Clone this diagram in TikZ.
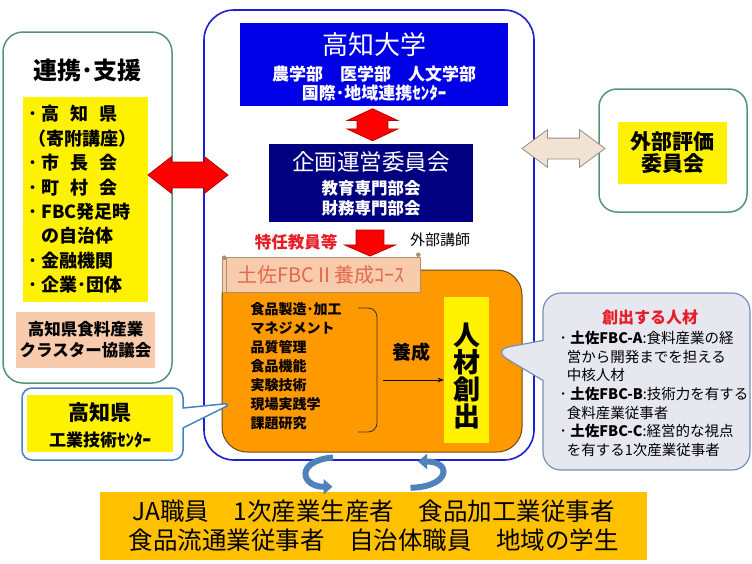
\documentclass[tikz,border=0pt]{standalone}
\usepackage{fontspec}
\setmainfont{Noto Sans CJK JP}
\usetikzlibrary{positioning,shapes.arrows,shapes.callouts,arrows.meta,calc}

\definecolor{frameGreen}{RGB}{84,150,112}
\definecolor{uniBlue}{RGB}{0,0,230}
\definecolor{committeeBlue}{RGB}{0,0,128}
\definecolor{frameBlue}{RGB}{30,30,215}
\definecolor{peach}{RGB}{248,203,173}
\definecolor{courseOrange}{RGB}{255,153,0}
\definecolor{courseEdge}{RGB}{110,70,20}
\definecolor{scrollText}{RGB}{225,105,75}
\definecolor{arrowRed}{RGB}{255,0,0}
\definecolor{arrowEdge}{RGB}{180,0,0}
\definecolor{beige}{RGB}{242,226,212}
\definecolor{beigeEdge}{RGB}{150,140,130}
\definecolor{calloutFill}{RGB}{231,231,240}
\definecolor{calloutEdge}{RGB}{115,145,185}
\definecolor{techEdge}{RGB}{70,130,190}
\definecolor{cycleBlue}{RGB}{79,129,189}
\definecolor{traineeGold}{RGB}{255,192,0}
\definecolor{talentRed}{RGB}{230,30,40}

\newcommand{\fsz}[2]{\fontsize{#1}{#2}\selectfont}
\newcommand{\itm}{･\hspace{.25em}}

\tikzset{
  greenframe/.style={draw=frameGreen, line width=1.5pt, rounded corners=20pt, fill=white},
  fillbox/.style={draw=none, inner sep=0pt},
  blockarrow/.style={draw=arrowEdge, fill=arrowRed, line width=0.8pt, inner xsep=0pt},
  cyclearrow/.style={draw=cycleBlue, line width=6pt, -{Triangle[length=9pt,width=15pt]}},
}

\begin{document}
\begin{tikzpicture}[x=1pt,y=-1pt]
\useasboundingbox (0,0) rectangle (752,563);

% partners
\node[greenframe, minimum width=169, minimum height=351] (support) at (87.5,207.5) {};
\node[font=\bfseries\fsz{24}{26}] (supporttitle) at (87,70) {連携･支援};
\node[fillbox, fill=yellow, minimum width=125, minimum height=205, inner xsep=5pt, text width=115, align=left, font=\bfseries\fsz{18}{24.4}] (members) at (85.5,199.5)
  {\itm 高\hspace{.6em}知\hspace{.6em}県\\（寄附講座）\\\itm 市\hspace{.6em}長\hspace{.6em}会\\\itm 町\hspace{.6em}村\hspace{.6em}会\\\itm FBC発足時\\\hspace{.75em}の自治体\\\itm 金融機関\\\itm 企業･団体};
\node[fillbox, fill=peach, minimum width=139, minimum height=56, align=center, font=\bfseries\fsz{16.5}{21}] (cluster) at (85.5,340) {高知県食料産業\\クラスター協議会};

% university
\node[draw=frameBlue, line width=1.6pt, rounded corners=30pt, minimum width=330, minimum height=450] (univframe) at (369,235) {};
\node[fillbox, fill=uniBlue, minimum width=268, minimum height=83] (kochi) at (374,64) {};
\node[text=white, font=\fsz{26}{28}] at (374,45) {高知大学};
\node[text=white, font=\bfseries\fsz{17}{19}] at (374,74) {農学部　医学部　人文学部};
\node[text=white, font=\bfseries\fsz{17}{19}] at (374,93) {国際･地域連携ｾﾝﾀｰ};
\node[fillbox, fill=committeeBlue, minimum width=204, minimum height=78] (committee) at (371,183) {};
\node[text=white, font=\fsz{22.5}{24}] at (371,162) {企画運営委員会};
\node[text=white, font=\bfseries\fsz{16.5}{20.5}, align=center] at (371,198) {教育専門部会\\財務専門部会};
\node[blockarrow, double arrow, rotate=90, minimum height=32, inner ysep=15pt, double arrow head extend=10, double arrow tip angle=130] (govarrow) at ($(kochi.south)!.5!(committee.north)$) {};

\node[blockarrow, single arrow, rotate=-90, minimum height=26, inner ysep=13.5pt, single arrow head extend=11.5, single arrow tip angle=133] (staffarrow) at (370,240) {};
\node[text=talentRed, font=\bfseries\fsz{16.5}{18}] (staff) at (296,242) {特任教員等};
\node[font=\fsz{15}{17}] (lecturers) at (440,240) {外部講師};

% course
\node[draw=courseEdge, line width=1pt, fill=courseOrange, rounded corners=25pt, minimum width=300, minimum height=182] (course) at (372,361) {};
\node[draw=courseEdge!60, line width=.6pt, fill=peach, text=scrollText, font=\fsz{20}{22}, minimum width=198, minimum height=35] (coursetitle) at (321,274.5) {土佐FBCⅡ養成ｺｰｽ};
\draw[courseEdge!60, line width=.6pt] ([xshift=5pt]coursetitle.north west) -- ([xshift=5pt]coursetitle.south west);
\filldraw[fill=peach!70!black, draw=courseEdge!60] (coursetitle.north west) ++(2.5,1) circle (2);
\filldraw[fill=peach!70!black, draw=courseEdge!60] (coursetitle.north east) ++(-2,-2) circle (2);
\node[anchor=west, align=left, font=\bfseries\fsz{14}{19}] (topics) at (247,366.5) {食品製造･加工\\マネジメント\\品質管理\\食品機能\\実験技術\\現場実践学\\課題研究};
\draw[line width=.8pt, rounded corners=9pt, black!80] (358,308) -- (377,308) -- (377,432) -- (358,432);
\node[font=\bfseries\fsz{19}{21}] (nurture) at (411,352) {養成};
\node[fillbox, fill=yellow, minimum width=45, minimum height=146] (talent) at (466.5,370) {};
\node[font=\bfseries\fsz{27}{27}, align=center] at (467,376) {人\\材\\創\\出};
\coordinate (bracketout) at (383,380);
\draw[-{Stealth[length=6pt]}, line width=.8pt] (bracketout) -- (bracketout -| talent.west);

% talent profiles
\node[rectangle callout, callout absolute pointer={(492,350)}, callout pointer width=40pt, fill=calloutFill, draw=calloutEdge, line width=1.2pt, rounded corners=18pt, minimum width=207, minimum height=177] (profile) at (646.5,381.5) {};
\node[text=talentRed, font=\bfseries\fsz{16}{18}] (profiletitle) at (650,317) {創出する人材};
\node[anchor=west, align=left, font=\fsz{14.5}{18.7}] (profiles) at (556,394)
  {\itm\textbf{土佐FBC-A}:食料産業の経\\\hspace{.5em}営から開発までを担える\\\hspace{.5em}中核人材\\\itm\textbf{土佐FBC-B}:技術力を有する\\\hspace{.5em}食料産業従事者\\\itm\textbf{土佐FBC-C}:経営的な視点\\\hspace{.5em}を有する1次産業従事者};

% technology center
\node[rectangle callout, callout absolute pointer={(233,403)}, callout pointer width=20pt, fill=white, draw=techEdge, line width=1.5pt, rounded corners=10pt, minimum width=161, minimum height=72] (techcenter) at (102.5,424) {};
\node[fillbox, fill=yellow, minimum width=146, minimum height=57] (techlabel) at (100,423.5) {};
\node[font=\bfseries\fsz{21}{23}] at (100,413) {高知県};
\node[font=\bfseries\fsz{17}{19}] at (100,440) {工業技術ｾﾝﾀｰ};

% evaluation
\node[greenframe, rounded corners=18pt, minimum width=148, minimum height=123] (evaluation) at (673,150.5) {};
\node[fillbox, fill=yellow, minimum width=109, minimum height=62, align=center, font=\bfseries\fsz{21}{22}] (evallabel) at (672.5,153) {外部評価\\委員会};

% big arrows
\node[blockarrow, double arrow, minimum height=80, inner ysep=12.5pt, double arrow head extend=5.5, double arrow tip angle=76] (supportarrow) at (188,175) {};
\node[blockarrow, draw=beigeEdge, fill=beige, double arrow, minimum height=83, inner ysep=10pt, double arrow head extend=8.5, double arrow tip angle=73] (evalarrow) at (563.5,148.5) {};

% trainees
\node[fillbox, fill=traineeGold, minimum width=547, minimum height=68, align=center, font=\fsz{24.5}{29}] (trainees) at (373.5,526) {JA職員　1次産業生産者　食品加工業従事者\\食品流通業従事者　自治体職員　地域の学生};
\draw[cyclearrow] ([xshift=-39pt,yshift=-5pt]course.south) .. controls +(-38,3) and +(-32,0) .. ([xshift=-41pt,yshift=5pt]trainees.north);
\draw[cyclearrow] ([xshift=37pt,yshift=4pt]trainees.north) .. controls +(40,-1) and +(34,0) .. ([xshift=46pt,yshift=-9pt]course.south);
\end{tikzpicture}
\end{document}
